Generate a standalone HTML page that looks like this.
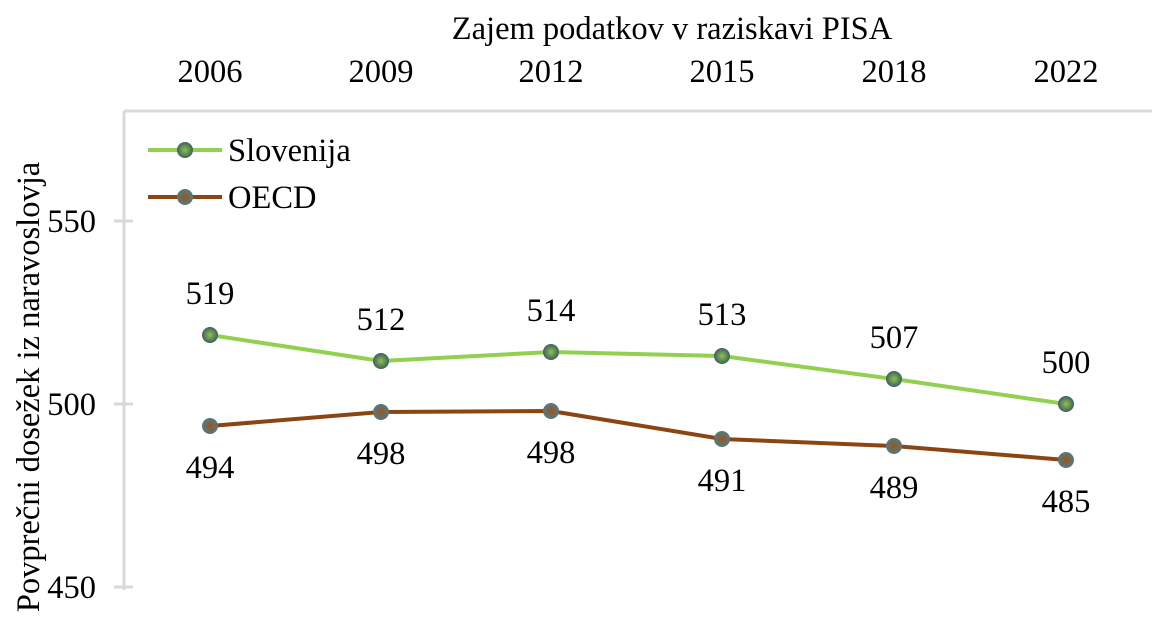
<!DOCTYPE html>
<html><head><meta charset="utf-8"><style>html,body{margin:0;padding:0;background:#fff}</style></head>
<body>
<svg width="1162" height="618" xmlns="http://www.w3.org/2000/svg" font-family="Liberation Serif, serif" fill="#000">
<defs>
<radialGradient id="gs" cx="50%" cy="50%" r="50%"><stop offset="0" stop-color="#8fc24a"/><stop offset="1" stop-color="#3d6060"/></radialGradient>
<radialGradient id="go" cx="50%" cy="50%" r="50%"><stop offset="0" stop-color="#a0521e"/><stop offset="1" stop-color="#4f7c84"/></radialGradient>
</defs>
<g stroke="#d9d9d9" stroke-width="3" fill="none">
<line x1="124" y1="111" x2="1152" y2="111"/>
<line x1="124" y1="111" x2="124" y2="590"/>
<line x1="114" y1="221" x2="133" y2="221"/>
<line x1="114" y1="404" x2="133" y2="404"/>
<line x1="114" y1="587" x2="133" y2="587"/>
</g>
<g font-size="32.5">
<text x="672" y="39" text-anchor="middle">Zajem podatkov v raziskavi PISA</text>
<g text-anchor="middle">
<text x="210" y="82">2006</text><text x="381" y="82">2009</text><text x="551" y="82">2012</text>
<text x="722" y="82">2015</text><text x="894" y="82">2018</text><text x="1066" y="82">2022</text>
</g>
<g text-anchor="end">
<text x="96" y="232">550</text><text x="96" y="415">500</text><text x="96" y="598">450</text>
</g>
<text transform="translate(39,387) rotate(-90)" text-anchor="middle">Povprečni dosežek iz naravoslovja</text>
</g>
<polyline points="210,335 381,361 551,352 722,356 894,379 1066,404" fill="none" stroke="#92d050" stroke-width="4"/>
<polyline points="210,426 381,412 551,411 722,439 894,446 1066,460" fill="none" stroke="#8b4513" stroke-width="4"/>
<g>
<circle cx="210" cy="335" r="8" fill="url(#gs)"/><circle cx="381" cy="361" r="8" fill="url(#gs)"/><circle cx="551" cy="352" r="8" fill="url(#gs)"/>
<circle cx="722" cy="356" r="8" fill="url(#gs)"/><circle cx="894" cy="379" r="8" fill="url(#gs)"/><circle cx="1066" cy="404" r="8" fill="url(#gs)"/>
<circle cx="210" cy="426" r="8" fill="url(#go)"/><circle cx="381" cy="412" r="8" fill="url(#go)"/><circle cx="551" cy="411" r="8" fill="url(#go)"/>
<circle cx="722" cy="439" r="8" fill="url(#go)"/><circle cx="894" cy="446" r="8" fill="url(#go)"/><circle cx="1066" cy="460" r="8" fill="url(#go)"/>
</g>
<g font-size="32.5" text-anchor="middle">
<text x="210" y="304">519</text><text x="381" y="330">512</text><text x="551" y="321">514</text>
<text x="722" y="325">513</text><text x="894" y="348">507</text><text x="1066" y="373">500</text>
<text x="210" y="478">494</text><text x="381" y="464">498</text><text x="551" y="463">498</text>
<text x="722" y="491">491</text><text x="894" y="498">489</text><text x="1066" y="512">485</text>
</g>
<line x1="148" y1="150" x2="222" y2="150" stroke="#92d050" stroke-width="4"/>
<circle cx="185" cy="150" r="8" fill="url(#gs)"/>
<line x1="148" y1="197" x2="222" y2="197" stroke="#8b4513" stroke-width="4"/>
<circle cx="185" cy="197" r="8" fill="url(#go)"/>
<text x="228" y="161" font-size="32.5">Slovenija</text>
<text x="228" y="208" font-size="32.5">OECD</text>
</svg>
</body></html>
